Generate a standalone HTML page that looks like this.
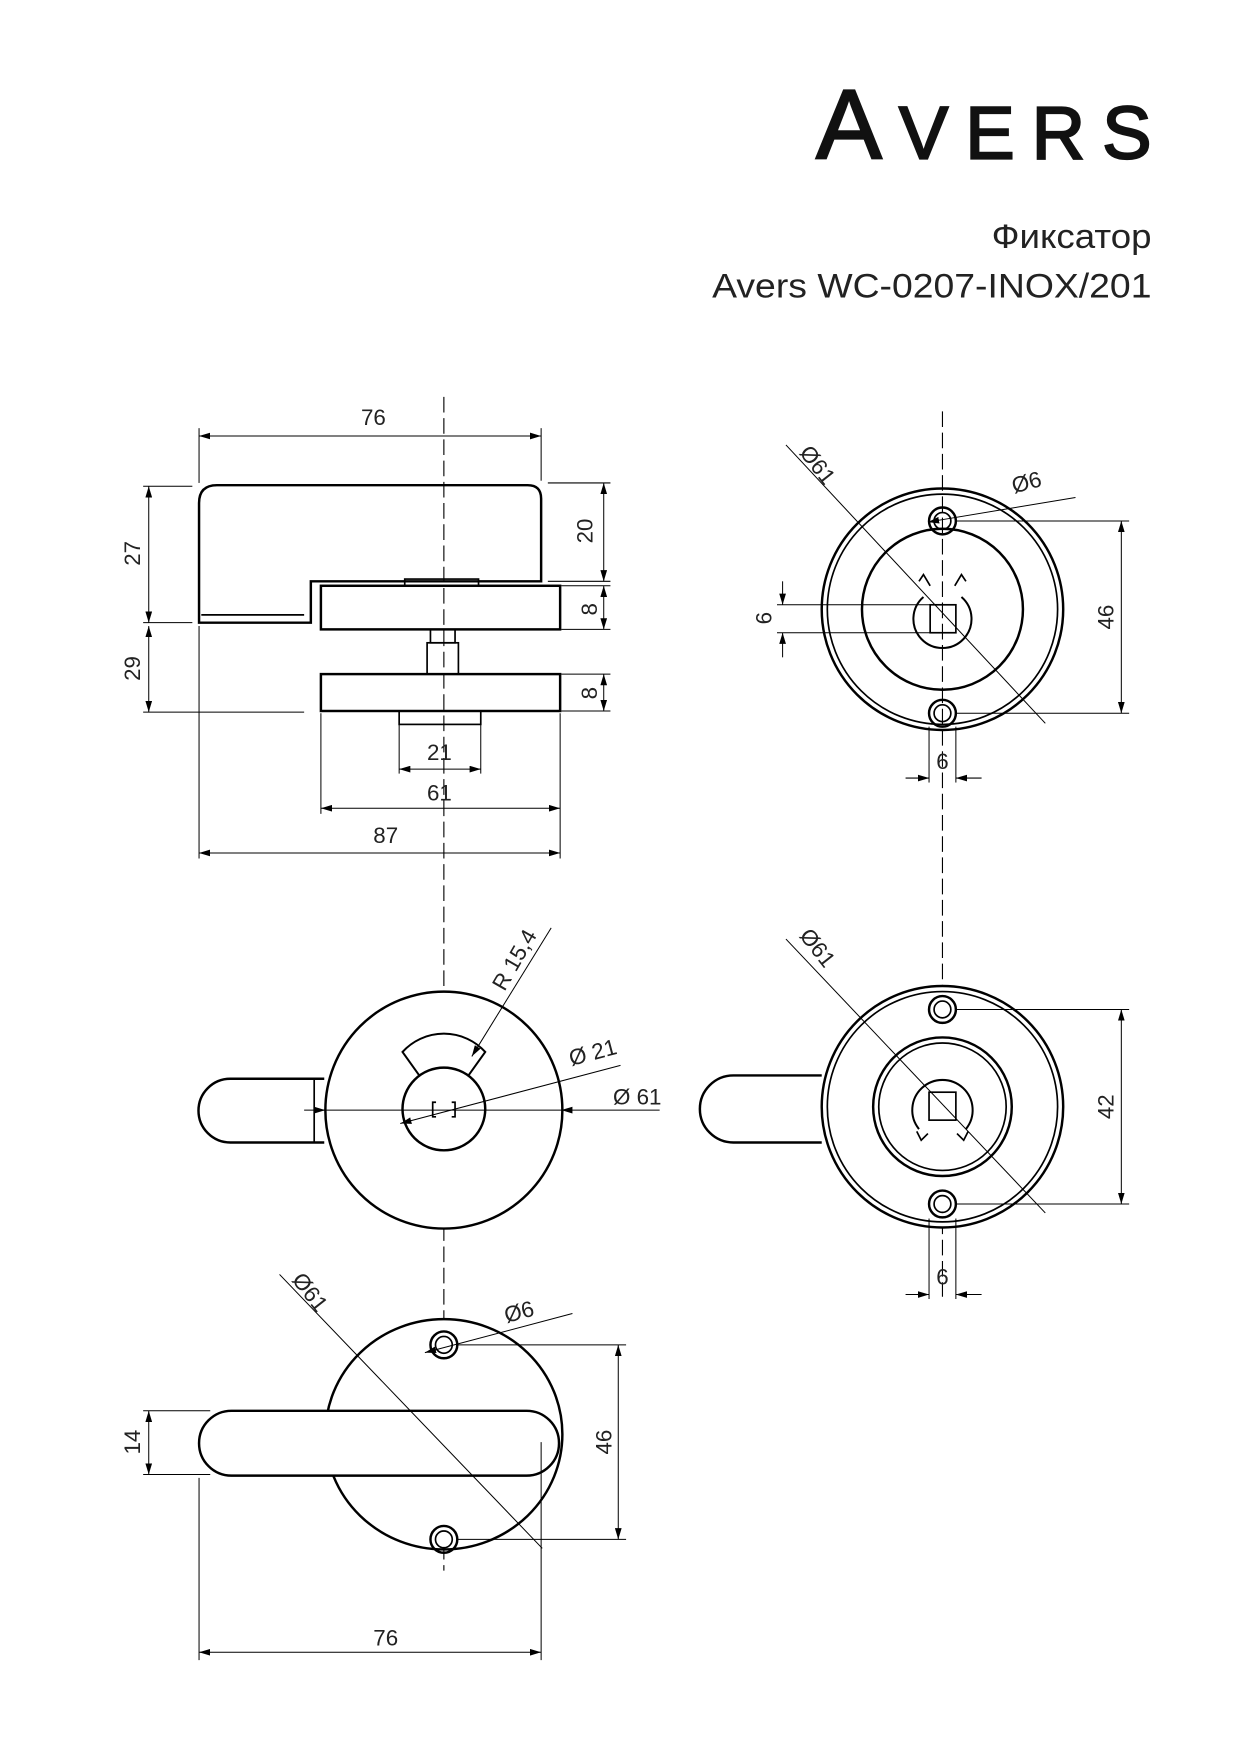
<!DOCTYPE html>
<html><head><meta charset="utf-8"><style>html,body{margin:0;padding:0;background:#fff}svg{display:block}</style></head>
<body>
<svg width="1241" height="1754" viewBox="0 0 1110 1569" xmlns="http://www.w3.org/2000/svg" font-family="Liberation Sans, DejaVu Sans, sans-serif">
<defs>
<marker id="a" viewBox="0 0 10 6" refX="10" refY="3" markerWidth="10" markerHeight="6" orient="auto-start-reverse" markerUnits="userSpaceOnUse"><path d="M0,0 L10,3 L0,6 z" fill="#000"/></marker>
</defs>
<rect width="1110" height="1569" fill="#fff"/>
<!-- logo -->
<text x="730" y="142" font-size="66" fill="#111" stroke="#111" stroke-width="2" textLength="300" lengthAdjust="spacing"><tspan font-size="88">A</tspan>VERS</text>
<text x="1030" y="222" text-anchor="end" font-size="31" fill="#222" textLength="143" lengthAdjust="spacingAndGlyphs">Фиксатор</text>
<text x="1030" y="266" text-anchor="end" font-size="31" fill="#222" textLength="393" lengthAdjust="spacingAndGlyphs">Avers WC-0207-INOX/201</text>

<g stroke="#000" fill="none">
<g stroke-width="1" stroke-dasharray="14,5">
<line x1="397" y1="355" x2="397" y2="1405"/>
<line x1="843" y1="368" x2="843" y2="1160"/>
</g>

<!-- TOP LEFT side view -->
<g stroke-width="2.2">
<path d="M178,557 L178,450 Q178,434 194,434 L472,434 Q484,434 484,446 L484,520 L278,520 L278,557 Z"/>
<line x1="180" y1="550" x2="272" y2="550" stroke-width="1.5"/>
<rect x="287" y="524" width="214" height="39"/>
<rect x="362" y="518" width="66" height="6" stroke-width="1.5"/>
<rect x="382" y="575" width="28" height="28" stroke-width="1.5"/>
<rect x="385" y="563" width="22" height="12" stroke-width="1.5"/>
<rect x="287" y="603" width="214" height="33"/>
<rect x="357" y="636" width="73" height="12" stroke-width="1.5"/>
</g>
<g stroke-width="0.9">
<line x1="178" y1="383" x2="178" y2="432"/><line x1="484" y1="383" x2="484" y2="430"/>
<line x1="178" y1="390" x2="484" y2="390" marker-start="url(#a)" marker-end="url(#a)"/>
<line x1="128" y1="435" x2="172" y2="435"/><line x1="128" y1="557" x2="172" y2="557"/>
<line x1="133" y1="435" x2="133" y2="557" marker-start="url(#a)" marker-end="url(#a)"/>
<line x1="128" y1="637" x2="272" y2="637"/>
<line x1="133" y1="560" x2="133" y2="637" marker-start="url(#a)" marker-end="url(#a)"/>
<line x1="490" y1="432" x2="546" y2="432"/><line x1="490" y1="520" x2="546" y2="520"/>
<line x1="540" y1="432" x2="540" y2="520" marker-start="url(#a)" marker-end="url(#a)"/>
<line x1="502" y1="524" x2="546" y2="524"/><line x1="502" y1="563" x2="546" y2="563"/>
<line x1="540" y1="524" x2="540" y2="563" marker-start="url(#a)" marker-end="url(#a)"/>
<line x1="502" y1="603" x2="546" y2="603"/><line x1="502" y1="636" x2="546" y2="636"/>
<line x1="540" y1="603" x2="540" y2="636" marker-start="url(#a)" marker-end="url(#a)"/>
<line x1="357" y1="648" x2="357" y2="692"/><line x1="430" y1="648" x2="430" y2="692"/>
<line x1="357" y1="688" x2="430" y2="688" marker-start="url(#a)" marker-end="url(#a)"/>
<line x1="287" y1="638" x2="287" y2="728"/><line x1="501" y1="638" x2="501" y2="768"/>
<line x1="287" y1="723" x2="501" y2="723" marker-start="url(#a)" marker-end="url(#a)"/>
<line x1="178" y1="560" x2="178" y2="768"/>
<line x1="178" y1="763" x2="501" y2="763" marker-start="url(#a)" marker-end="url(#a)"/>
</g>

<!-- TOP RIGHT -->
<g stroke-width="2.2">
<circle cx="843" cy="545" r="108"/>
<circle cx="843" cy="545" r="103" stroke-width="1.5"/>
<circle cx="843" cy="545" r="72"/>
<circle cx="843" cy="466" r="12"/><circle cx="843" cy="466" r="7.5" stroke-width="1.5"/>
<circle cx="843" cy="638" r="12"/><circle cx="843" cy="638" r="7.5" stroke-width="1.5"/>
<path d="M826,534 A26,26 0 1 0 860,534" stroke-width="1.8"/>
<path d="M822,520 l4,-6 l6,10 M864,520 l-4,-6 l-6,10" stroke-width="1.5"/>
<rect x="832" y="541" width="23" height="25" stroke-width="1.5"/>
</g>
<g stroke-width="0.9">
<line x1="703" y1="398" x2="935" y2="647"/>
<line x1="830" y1="467" x2="962" y2="445" marker-start="url(#a)"/>
<line x1="855" y1="466" x2="1010" y2="466"/><line x1="855" y1="638" x2="1010" y2="638"/>
<line x1="1003" y1="466" x2="1003" y2="638" marker-start="url(#a)" marker-end="url(#a)"/>
<line x1="695" y1="541" x2="832" y2="541"/><line x1="695" y1="566" x2="832" y2="566"/>
<line x1="700" y1="520" x2="700" y2="541" marker-end="url(#a)"/><line x1="700" y1="588" x2="700" y2="566" marker-end="url(#a)"/>
<line x1="831" y1="650" x2="831" y2="700"/><line x1="855" y1="650" x2="855" y2="700"/>
<line x1="810" y1="696" x2="831" y2="696" marker-end="url(#a)"/><line x1="878" y1="696" x2="855" y2="696" marker-end="url(#a)"/>
</g>

<!-- MID LEFT -->
<g stroke-width="2.2">
<path d="M290,965 L206,965 A28.5,28.5 0 0 0 206,1022 L290,1022"/>
<line x1="281" y1="965" x2="281" y2="1022" stroke-width="1.5"/>
<circle cx="397" cy="993" r="106" fill="#fff"/>
<circle cx="397" cy="992" r="37"/>
<path d="M375,962 L360,941 A50,50 0 0 1 434,941 L419,962" stroke-width="1.8"/>
<path d="M390,986 h-3 v13 h3 M404,986 h3 v13 h-3" stroke-width="1.5"/>
</g>
<g stroke-width="0.9">
<line x1="272" y1="993" x2="590" y2="993"/>
<line x1="505" y1="993" x2="502" y2="993" marker-end="url(#a)"/>
<line x1="493" y1="830" x2="422" y2="945" marker-end="url(#a)"/>
<line x1="555" y1="953" x2="358" y2="1005" marker-end="url(#a)"/>
<line x1="283" y1="993" x2="291" y2="993" marker-end="url(#a)"/>
</g>

<!-- MID RIGHT -->
<g stroke-width="2.2">
<path d="M735,962 L656,962 A30,30 0 0 0 656,1022 L735,1022"/>
<circle cx="843" cy="990" r="108" fill="#fff"/>
<circle cx="843" cy="990" r="103" stroke-width="1.5"/>
<circle cx="843" cy="990" r="62"/>
<circle cx="843" cy="990" r="57" stroke-width="1.5"/>
<circle cx="843" cy="903" r="12"/><circle cx="843" cy="903" r="7.5" stroke-width="1.5"/>
<circle cx="843" cy="1077" r="12"/><circle cx="843" cy="1077" r="7.5" stroke-width="1.5"/>
<path d="M822,1010 A27,27 0 1 1 864,1010" stroke-width="1.8"/>
<rect x="831" y="977" width="24" height="25" stroke-width="1.5"/>
<path d="M820,1012 l4,8 l6,-6 M866,1012 l-4,8 l-6,-6" stroke-width="1.5"/>
</g>
<g stroke-width="0.9">
<line x1="703" y1="840" x2="935" y2="1085"/>
<line x1="855" y1="903" x2="1010" y2="903"/><line x1="855" y1="1077" x2="1010" y2="1077"/>
<line x1="1003" y1="903" x2="1003" y2="1077" marker-start="url(#a)" marker-end="url(#a)"/>
<line x1="831" y1="1090" x2="831" y2="1162"/><line x1="855" y1="1090" x2="855" y2="1162"/>
<line x1="810" y1="1158" x2="831" y2="1158" marker-end="url(#a)"/><line x1="878" y1="1158" x2="855" y2="1158" marker-end="url(#a)"/>
</g>

<!-- BOTTOM -->
<g stroke-width="2.2">
<ellipse cx="397" cy="1283" rx="106" ry="103" fill="#fff"/>
<circle cx="397" cy="1203" r="12"/><circle cx="397" cy="1203" r="7.5" stroke-width="1.5"/>
<circle cx="397" cy="1377" r="12"/><circle cx="397" cy="1377" r="7.5" stroke-width="1.5"/>
<rect x="178" y="1262" width="322" height="58" rx="29" fill="#fff"/>
</g>
<g stroke-width="0.9">
<line x1="250" y1="1140" x2="485" y2="1385"/>
<line x1="380" y1="1210" x2="512" y2="1175" marker-start="url(#a)"/>
<line x1="409" y1="1203" x2="560" y2="1203"/><line x1="409" y1="1377" x2="560" y2="1377"/>
<line x1="553" y1="1203" x2="553" y2="1377" marker-start="url(#a)" marker-end="url(#a)"/>
<line x1="128" y1="1262" x2="188" y2="1262"/><line x1="128" y1="1319" x2="188" y2="1319"/>
<line x1="133" y1="1262" x2="133" y2="1319" marker-start="url(#a)" marker-end="url(#a)"/>
<line x1="178" y1="1322" x2="178" y2="1485"/><line x1="484" y1="1290" x2="484" y2="1485"/>
<line x1="178" y1="1478" x2="484" y2="1478" marker-start="url(#a)" marker-end="url(#a)"/>
</g>
</g>

<g font-size="20" fill="#222" text-anchor="middle">
<text x="334" y="380">76</text>
<text transform="translate(125,495) rotate(-90)">27</text>
<text transform="translate(125,598) rotate(-90)">29</text>
<text transform="translate(530,475) rotate(-90)">20</text>
<text transform="translate(534,545) rotate(-90)">8</text>
<text transform="translate(534,620) rotate(-90)">8</text>
<text x="393" y="680">21</text>
<text x="393" y="716">61</text>
<text x="345" y="754">87</text>
<text transform="translate(726,420) rotate(52)">Ø61</text>
<text transform="translate(920,438) rotate(-15)">Ø6</text>
<text transform="translate(996,552) rotate(-90)">46</text>
<text transform="translate(690,553) rotate(-90)">6</text>
<text x="843" y="688">6</text>
<text transform="translate(466,862) rotate(-60)">R 15,4</text>
<text transform="translate(532,948) rotate(-15)">Ø 21</text>
<text x="570" y="988">Ø 61</text>
<text transform="translate(726,852) rotate(52)">Ø61</text>
<text transform="translate(996,990) rotate(-90)">42</text>
<text x="843" y="1149">6</text>
<text transform="translate(272,1160) rotate(52)">Ø61</text>
<text transform="translate(466,1180) rotate(-15)">Ø6</text>
<text transform="translate(547,1290) rotate(-90)">46</text>
<text transform="translate(125,1290) rotate(-90)">14</text>
<text x="345" y="1472">76</text>
</g>
</svg>
</body></html>
